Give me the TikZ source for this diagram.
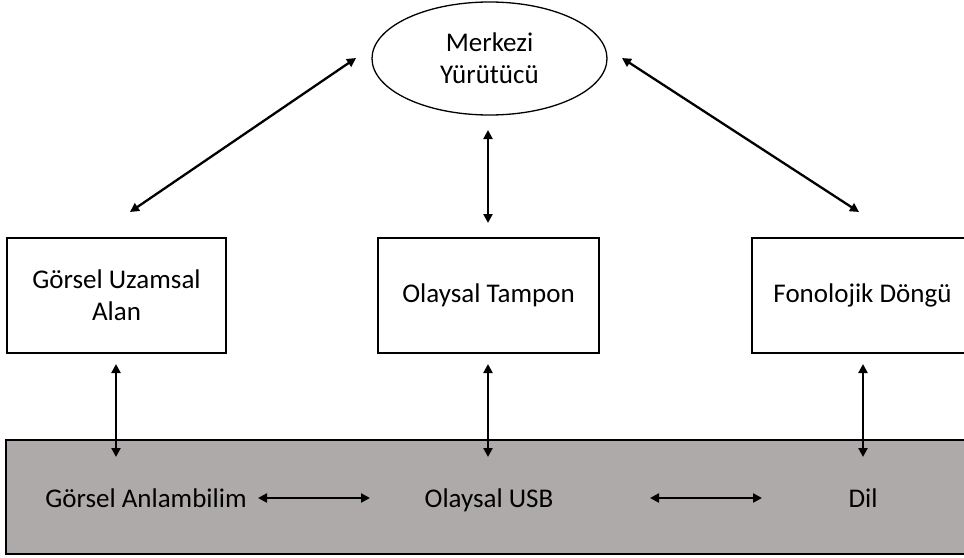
\documentclass[tikz,border=0pt]{standalone}
\usepackage{fontspec}
\setmainfont{Carlito}
\usetikzlibrary{shapes.geometric,arrows.meta}
\definecolor{bandgray}{RGB}{174,170,170}
\begin{document}
\begin{tikzpicture}[x=1pt,y=-1pt,
  every node/.style={font=\fontsize{27}{32}\selectfont, inner sep=0pt, align=center},
  boxnode/.style={draw=black, line width=1.3pt, fill=white, minimum height=115},
  ovalnode/.style={ellipse, draw=black, line width=1.3pt, minimum width=235, minimum height=113},
  bandnode/.style={draw=black, line width=1.3pt, fill=bandgray, minimum width=969, minimum height=114},
  link/.style={line width=2.3pt, {Triangle[length=9pt,width=9pt]}-{Triangle[length=9pt,width=9pt]}}
]
\useasboundingbox (0,0) rectangle (964,557);
% shapes
\node[ovalnode] (ce) at (489.5,58.5) {Merkezi\\Yürütücü};
\node[boxnode, minimum width=219] (vs) at (116.5,295.5) {Görsel Uzamsal\\Alan};
\node[boxnode, minimum width=221] (ot) at (488.5,295.5) {Olaysal Tampon};
\node[boxnode, minimum width=221] (fd) at (862.5,295.5) {Fonolojik Döngü};
\node[bandnode] (lt) at (490.5,497) {};
\node[anchor=base] (ga) at (146,507) {Görsel Anlambilim};
\node[anchor=base] (ou) at (489,507) {Olaysal USB};
\node[anchor=base] (dil) at (863,507) {Dil};
% connector ends
\coordinate (c1a) at (356,58);  \coordinate (c1b) at (130,212);
\coordinate (c2a) at (488,130); \coordinate (c2b) at (488,223);
\coordinate (c3a) at (622,58);  \coordinate (c3b) at (859,212);
\coordinate (v1a) at (116,364); \coordinate (v1b) at (116,457);
\coordinate (v2a) at (488,364); \coordinate (v2b) at (488,457);
\coordinate (v3a) at (863,364); \coordinate (v3b) at (863,457);
\coordinate (h1a) at (258,498); \coordinate (h1b) at (370,498);
\coordinate (h2a) at (650,498); \coordinate (h2b) at (762,498);
% connectors
\draw[link] (c1a) -- (c1b);
\draw[link] (c2a) -- (c2b);
\draw[link] (c3a) -- (c3b);
\draw[link] (v1a) -- (v1b);
\draw[link] (v2a) -- (v2b);
\draw[link] (v3a) -- (v3b);
\draw[link] (h1a) -- (h1b);
\draw[link] (h2a) -- (h2b);
\end{tikzpicture}
\end{document}
